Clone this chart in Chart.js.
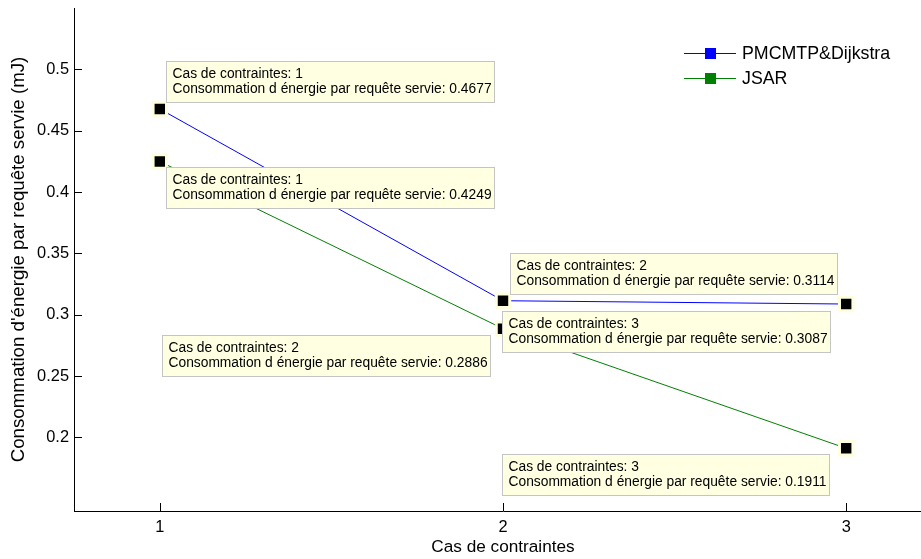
<!DOCTYPE html>
<html><head><meta charset="utf-8">
<script src="https://cdn.jsdelivr.net/npm/chart.js@4.4.1/dist/chart.umd.min.js"></script>
<style>
html,body{margin:0;padding:0;background:#fff;overflow:hidden;width:921px;height:559px}
#wrap{width:932px;height:559px}
#c{display:block}
</style>
</head><body><div id="wrap"><canvas id="c" width="932" height="559"></canvas></div>
<script>
const categories = [1, 2, 3];
const pmcmtpValues = [0.4677, 0.3114, 0.3087];
const jsarValues = [0.4249, 0.2886, 0.1911];
const seriesNames = ['PMCMTP&Dijkstra', 'JSAR'];
const yTickValues = [0.2, 0.25, 0.3, 0.35, 0.4, 0.45, 0.5];
const xTickValues = [1, 2, 3];
const xTitle = 'Cas de contraintes';
const yTitle = "Consommation d'énergie par requête servie (mJ)";
const tipLabelX = 'Cas de contraintes';
const tipLabelY = 'Consommation d énergie par requête servie';

// layout only: datatip box top-left offset from its point (px)
const tipOffsets = [
  [[6, -48], [7, -48], [-344, 7]],
  [[6, 6], [-341, 6], [-344, 6]]
];

const FONT = "'Liberation Sans', Arial, Helvetica, sans-serif";
const HALO = 'rgb(255,255,222)';

function pts(vals) { return categories.map((c, i) => ({ x: c, y: vals[i] })); }

const insideTicks = {
  id: 'insideTicks',
  beforeDatasetsDraw(chart) {
    const ctx = chart.ctx, a = chart.chartArea;
    const xs = chart.scales.x, ys = chart.scales.y;
    ctx.save();
    ctx.strokeStyle = '#000';
    ctx.lineWidth = 1;
    ctx.beginPath();
    xTickValues.forEach(v => {
      const px = Math.round(xs.getPixelForValue(v)) + 0.5;
      ctx.moveTo(px, a.bottom); ctx.lineTo(px, a.bottom - 8);
    });
    yTickValues.forEach(v => {
      const py = Math.round(ys.getPixelForValue(v)) + 0.5;
      ctx.moveTo(a.left, py); ctx.lineTo(a.left + 8, py);
    });
    ctx.stroke();
    ctx.restore();
  }
};

const dataTips = {
  id: 'dataTips',
  afterDatasetsDraw(chart) {
    const ctx = chart.ctx;
    ctx.save();
    ctx.font = '13.8px ' + FONT;
    ctx.textBaseline = 'middle';
    chart.data.datasets.forEach((ds, di) => {
      const meta = chart.getDatasetMeta(di);
      meta.data.forEach((el, i) => {
        const l1 = tipLabelX + ': ' + ds.data[i].x;
        const l2 = tipLabelY + ': ' + ds.data[i].y.toFixed(4);
        const w = Math.round(Math.max(ctx.measureText(l1).width, ctx.measureText(l2).width) + 9);
        const h = 41;
        const bx = Math.round(el.x + tipOffsets[di][i][0]) + 0.5;
        const by = Math.round(el.y + tipOffsets[di][i][1]) + 0.5;
        ctx.fillStyle = 'rgb(255,255,225)';
        ctx.fillRect(bx, by, w, h);
        ctx.strokeStyle = '#c4c4c4';
        ctx.lineWidth = 1;
        ctx.strokeRect(bx, by, w, h);
        ctx.fillStyle = '#000';
        ctx.fillText(l1, bx + 6, by + 13);
        ctx.fillText(l2, bx + 6, by + 28);
      });
    });
    ctx.restore();
  }
};

const legendPlugin = {
  id: 'matLegend',
  afterDraw(chart) {
    const ctx = chart.ctx;
    ctx.save();
    ctx.font = '17.8px ' + FONT;
    ctx.textBaseline = 'middle';
    chart.data.datasets.forEach((ds, i) => {
      const y = 53 + i * 25;
      ctx.strokeStyle = ds.borderColor;
      ctx.lineWidth = 1;
      ctx.beginPath();
      ctx.moveTo(684, y + 0.5); ctx.lineTo(736, y + 0.5);
      ctx.stroke();
      ctx.fillStyle = ds.borderColor;
      ctx.fillRect(705, y - 5, 11, 11);
      ctx.fillStyle = '#000';
      ctx.fillText(ds.label, 742, y + 1);
    });
    ctx.restore();
  }
};

function mkDataset(label, vals, color) {
  return {
    label, data: pts(vals), showLine: true,
    borderColor: color, borderWidth: 1,
    pointStyle: 'rect', pointRadius: 9.5,
    pointBackgroundColor: '#000', pointBorderColor: HALO, pointBorderWidth: 3,
    pointHoverRadius: 9.5
  };
}

new Chart(document.getElementById('c'), {
  type: 'scatter',
  data: {
    datasets: [
      mkDataset(seriesNames[0], pmcmtpValues, '#0000ff'),
      mkDataset(seriesNames[1], jsarValues, '#008000')
    ]
  },
  options: {
    responsive: false,
    animation: false,
    devicePixelRatio: 1,
    layout: { autoPadding: false, padding: { top: 8, right: 0, bottom: 0, left: 0 } },
    plugins: { legend: { display: false }, tooltip: { enabled: false } },
    events: [],
    scales: {
      x: {
        type: 'linear', min: 0.75, max: 3.25,
        afterBuildTicks: s => { s.ticks = xTickValues.map(v => ({ value: v })); },
        afterFit: s => { s.height = 48; s.paddingLeft = 0; s.paddingRight = 0; },
        grid: { display: false, drawTicks: false },
        border: { display: true, color: '#000', width: 1 },
        ticks: { color: '#000', font: { family: FONT, size: 16.4 }, padding: 7, maxRotation: 0, callback: v => String(v) },
        title: { display: true, text: xTitle, color: '#000', font: { family: FONT, size: 17.2 }, padding: { top: 0, bottom: 1 } }
      },
      y: {
        type: 'linear', min: 0.14, max: 0.55,
        afterBuildTicks: s => { s.ticks = yTickValues.map(v => ({ value: v })); },
        afterFit: s => { s.width = 74; s.paddingTop = 0; s.paddingBottom = 0; },
        grid: { display: false, drawTicks: false },
        border: { display: true, color: '#000', width: 1 },
        ticks: { color: '#000', font: { family: FONT, size: 16.4 }, padding: 5, callback: v => String(+v.toFixed(2)) },
        title: { display: true, text: yTitle, color: '#000', font: { family: FONT, size: 18.7 }, padding: { top: 8, bottom: 0 } }
      }
    }
  },
  plugins: [insideTicks, dataTips, legendPlugin]
});
</script>
</body></html>
